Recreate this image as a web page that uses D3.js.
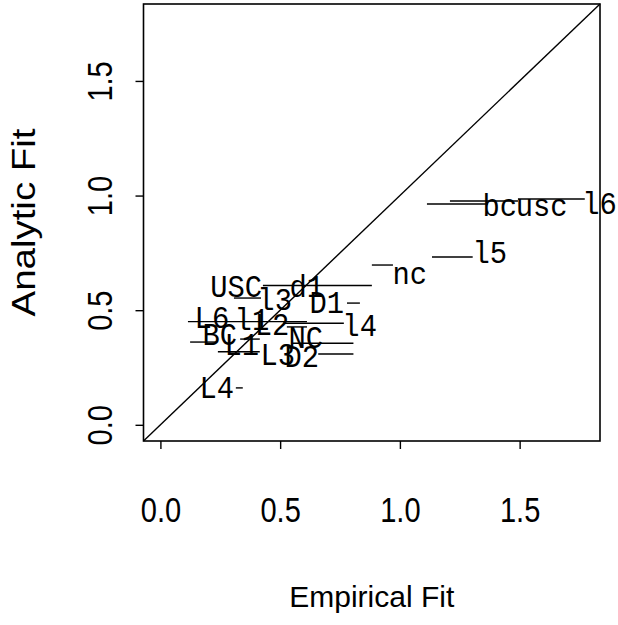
<!DOCTYPE html>
<html><head><meta charset="utf-8">
<script src="https://cdn.jsdelivr.net/npm/d3@7"></script>
<style>html,body{margin:0;padding:0;background:#fff;}svg{display:block;}</style>
</head><body>
<svg id="c" width="618" height="625"></svg>
<script>
// ---- data ----
const labelText = ["l6","bc","usc","l5","nc","USC","d1","l3","D1","l4","L6","l1","L2","BC","NC","L1","L3","D2","L4"];
const labelX    = [1.834,1.417,1.592,1.375,1.041,0.316,0.611,0.477,0.695,0.832,0.215,0.382,0.466,0.248,0.607,0.340,0.490,0.590,0.235];
const labelY    = [0.963,0.954,0.954,0.749,0.658,0.601,0.601,0.544,0.531,0.431,0.466,0.457,0.435,0.392,0.379,0.348,0.305,0.296,0.161];
const segX0 = [1.113,1.209,1.493,1.134,0.883,0.428,0.307,0.779,0.512,0.115,0.124,0.240,0.551,0.659,0.528,0.333,0.315];
const segX1 = [1.367,1.493,1.772,1.304,0.971,0.883,0.420,0.833,0.766,0.612,0.236,0.415,0.806,0.806,0.612,0.415,0.344];
const segY  = [0.963,0.976,0.985,0.732,0.697,0.608,0.553,0.531,0.443,0.450,0.361,0.319,0.356,0.309,0.427,0.374,0.161];
const xTicks = [0, 0.5, 1.0, 1.5];
const yTicks = [0, 0.5, 1.0, 1.5];
const lim = [0, 1.765];
const xTitle = "Empirical Fit", yTitle = "Analytic Fit";

// ---- layout ----
const L = 143.5, R = 600, T = 4, B = 441;
const ext = (lim[1]-lim[0])*0.04;
const dom = [lim[0]-ext, lim[1]+ext];
const x = d3.scaleLinear().domain(dom).range([L, R]);
const y = d3.scaleLinear().domain(dom).range([B, T]);
const svg = d3.select("#c");
const sans = "'Liberation Sans', Arial, Helvetica, sans-serif";
const mono = "'Liberation Mono', 'Courier New', monospace";

// diagonal
svg.append("line").attr("x1", x(dom[0])).attr("y1", y(dom[0])).attr("x2", x(dom[1])).attr("y2", y(dom[1]))
  .attr("stroke", "#000").attr("stroke-width", 1.4);

// segments
svg.append("g").selectAll("line").data(segY).join("line")
  .attr("x1", (d,i)=>x(segX0[i])).attr("x2", (d,i)=>x(segX1[i]))
  .attr("y1", d=>y(d)).attr("y2", d=>y(d))
  .attr("stroke", "#000").attr("stroke-width", 1.4);

// labels
svg.append("g").selectAll("text").data(labelText).join("text")
  .attr("transform", (d,i)=>`translate(${x(labelX[i])},${y(labelY[i])}) scale(0.93,1)`)
  .attr("dy", 10).attr("text-anchor", "middle")
  .attr("font-family", mono).attr("font-size", 31).attr("fill", "#000")
  .text(d=>d);

// box
svg.append("rect").attr("x", L).attr("y", T).attr("width", R-L).attr("height", B-T)
  .attr("fill", "none").attr("stroke", "#000").attr("stroke-width", 1.6);

// axes
const xa = d3.axisBottom(x).tickValues(xTicks).tickFormat(d3.format(".1f")).tickSize(8).tickPadding(0);
const gx = svg.append("g").attr("transform", `translate(0,${B})`).call(xa);
gx.select(".domain").remove();
gx.selectAll("line").attr("stroke-width", 1.4);
gx.selectAll("text").attr("y", null).attr("dy", null)
  .attr("transform", "translate(0,81) scale(0.83,1)")
  .attr("font-family", sans).attr("font-size", 35).attr("fill", "#000");

const ya = d3.axisLeft(y).tickValues(yTicks).tickFormat(d3.format(".1f")).tickSize(8);
const gy = svg.append("g").attr("transform", `translate(${L},0)`).call(ya);
gy.select(".domain").remove();
gy.selectAll("line").attr("stroke-width", 1.4);
gy.selectAll("text").attr("x", null).attr("y", null).attr("dy", null).attr("text-anchor", "middle")
  .attr("transform", "translate(-32,0) rotate(-90) scale(0.83,1)")
  .attr("font-family", sans).attr("font-size", 35).attr("fill", "#000");

// titles
svg.append("text").attr("x", (L+R)/2).attr("y", 607).attr("text-anchor", "middle")
  .attr("font-family", sans).attr("font-size", 30).attr("fill", "#000").text(xTitle);
svg.append("text").attr("transform", `translate(35,${(T+B)/2}) rotate(-90) scale(1.165,1)`).attr("text-anchor", "middle")
  .attr("font-family", sans).attr("font-size", 33).attr("fill", "#000").text(yTitle);
</script>
</body></html>
